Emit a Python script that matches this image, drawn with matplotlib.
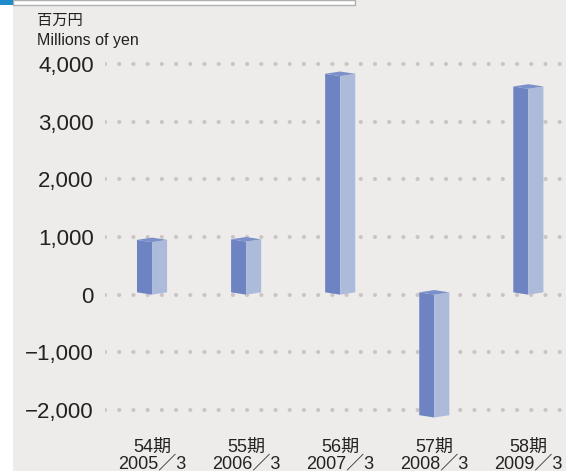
import numpy as np
import matplotlib.pyplot as plt
from matplotlib.patches import Rectangle

plt.rcParams['font.family'] = ['Liberation Sans', 'Noto Sans CJK JP']

periods = ['54期', '55期', '56期', '57期', '58期']
years = ['2005／3', '2006／3', '2007／3', '2008／3', '2009／3']
values = [910, 920, 3790, -2130, 3570]
yticks = [-2000, -1000, 0, 1000, 2000, 3000, 4000]
ytick_labels = ['−2,000', '−1,000', '0', '1,000', '2,000', '3,000', '4,000']

bg = '#edecea'
front_col = '#6e84c2'
side_col = '#adbbdb'
top_col = '#7b8fc8'
grid_col = '#ccc4c4'
text_col = '#222222'

fig = plt.figure(figsize=(5.66, 4.71), dpi=100)
fig.patch.set_facecolor(bg)

# white strip on the left and header box
fig.patches.append(Rectangle((0, 0), 13 / 566, 1, transform=fig.transFigure,
                             facecolor='white', edgecolor='none', zorder=0))
fig.patches.append(Rectangle((13 / 566, 1 - 5 / 471), 342 / 566, 5 / 471,
                             transform=fig.transFigure, facecolor='white',
                             edgecolor='#b0b0b0', linewidth=1, zorder=1))
fig.patches.append(Rectangle((0, 1 - 5 / 471), 13 / 566, 5 / 471,
                             transform=fig.transFigure, facecolor='#1e8bcb',
                             edgecolor='none', zorder=2))

ax = fig.add_axes([105 / 566, 46 / 471, 461 / 566, 370 / 471])
ax.set_facecolor(bg)
ax.set_xlim(-0.5, 4.4)
ax.set_ylim(-2260, 4156)
for s in ax.spines.values():
    s.set_visible(False)

for t in yticks:
    ax.axhline(t, color=grid_col, linewidth=3, linestyle=(0, (0.01, 3.4)),
               dash_capstyle='round', zorder=1)

w = 0.16   # half width of the box
d = 40     # vertical offset of the perspective corners
for i, v in enumerate(values):
    top = max(v, 0)
    base = min(v, 0)
    c = i
    ax.fill([c - w, c, c, c - w], [base + d, base, top, top + d],
            color=front_col, zorder=3, linewidth=0)
    ax.fill([c, c + w, c + w, c], [base, base + d, top + d, top],
            color=side_col, zorder=3, linewidth=0)
    ax.fill([c - w, c, c + w, c], [top + d, top, top + d, top + 2 * d],
            color=top_col, zorder=4, linewidth=0)

ax.set_yticks(yticks)
ax.set_yticklabels(ytick_labels, fontsize=16, color=text_col)
ax.set_xticks(range(len(periods)))
ax.set_xticklabels([p + '\n' + y for p, y in zip(periods, years)],
                   fontsize=13, color=text_col, linespacing=0.95)
ax.tick_params(axis='y', length=0, pad=8)
ax.tick_params(axis='x', length=0, pad=10)

fig.text(37 / 566, 1 - 21 / 471, '百万円', fontsize=11, color=text_col,
         va='center', ha='left')
fig.text(37 / 566, 1 - 41 / 471, 'Millions of yen', fontsize=11.5,
         color=text_col, va='center', ha='left')

fig.savefig('out.png', dpi=100, facecolor=fig.get_facecolor())
